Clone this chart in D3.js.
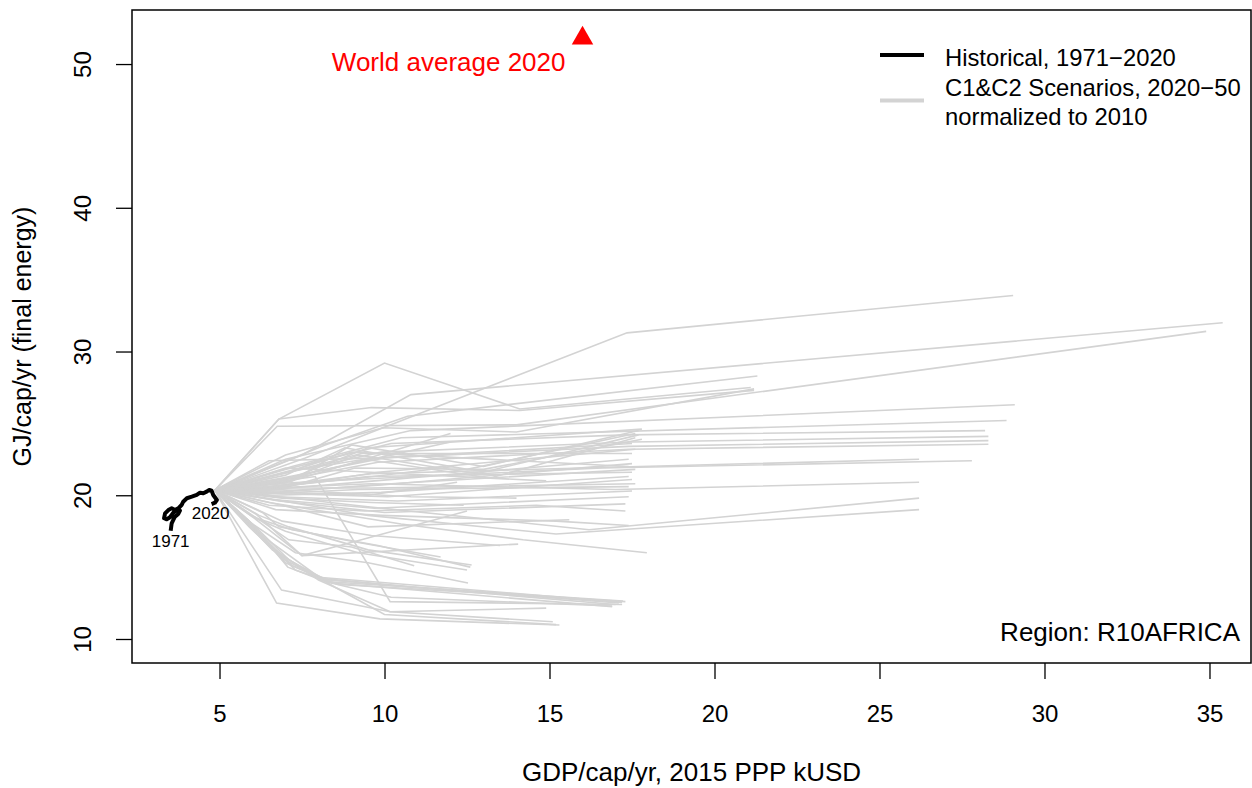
<!DOCTYPE html>
<html>
<head>
<meta charset="utf-8">
<title>R10AFRICA final energy vs GDP</title>
<script type="text/javascript" src="https://d3js.org/d3.v7.min.js"></script>
<style>
  body { margin: 0; background: #fff; }
  text { font-family: "Liberation Sans", Arial, Helvetica, sans-serif; }
</style>
</head>
<body>
<script type="text/javascript">

// historical path, 1971 -> 2020 (GDP kUSD/cap, GJ/cap)
var histGdp = [3.52, 3.55, 3.60, 3.65, 3.75, 3.80, 3.70, 3.60, 3.50, 3.40, 3.32, 3.35, 3.45, 3.55, 3.65,
               3.75, 3.85, 3.90, 4.01, 4.16, 4.31, 4.41, 4.51, 4.61, 4.69, 4.76, 4.81, 4.92, 4.86, 4.76]
var histFe  = [17.53, 18.05, 18.28, 18.51, 18.70, 18.93, 18.97, 18.79, 18.47, 18.33, 18.40, 18.74, 18.97, 19.09, 18.97,
               19.09, 19.32, 19.55, 19.79, 19.90, 20.02, 20.18, 20.14, 20.25, 20.37, 20.32, 20.02, 19.67, 19.48, 19.39]

// all scenarios start from the same normalised point
var scenStart = [4.86, 20.35]

// scenario paths after the start point, [gdp, fe]
var scenarios = [
  [[6.8,25.3],[10.0,29.2],[14.1,26.0],[21.1,27.5]],
  [[6.75,24.8],[14.0,24.9],[34.9,31.4]],
  [[6.8,25.3],[9.6,26.1],[14.1,25.9],[21.2,27.3]],
  [[7.5,22.8],[10.8,27.0],[35.4,32.0]],
  [[7.6,22.6],[17.35,31.3],[29.05,33.9]],
  [[8.2,23.5],[10.7,25.5],[21.3,28.3]],
  [[7.0,22.5],[10.8,24.5],[29.1,26.3]],
  [[7.2,22.0],[10.5,24.0],[28.85,25.2]],
  [[7.0,21.8],[10.2,23.6],[17.3,24.2],[28.2,24.5]],
  [[6.9,21.5],[9.9,23.0],[17.5,23.7],[28.3,24.1]],
  [[6.9,21.2],[10.0,22.6],[17.4,23.4],[28.3,23.8]],
  [[6.8,21.0],[9.8,22.3],[17.4,23.2],[28.3,23.55]],
  [[6.5,20.6],[9.6,21.5],[16.0,21.9],[26.2,22.5]],
  [[6.6,20.8],[10.0,21.2],[16.6,21.9],[27.8,22.4]],
  [[6.5,20.5],[9.6,20.8],[17.0,20.4],[26.2,20.9]],
  [[6.4,20.0],[9.5,19.2],[16.2,17.6],[26.2,19.8]],
  [[6.4,19.8],[9.5,18.6],[15.2,17.3],[26.2,19.0]],
  [[6.5,19.5],[10.5,18.0],[14.2,16.9],[17.95,16.0]],
  [[7.0,22.8],[9.95,24.7],[14.0,24.4],[21.2,27.4]],
  [[7.3,21.3],[9.5,23.3],[17.8,24.6]],
  [[7.2,21.0],[9.0,23.5],[13.0,22.0],[17.7,24.5]],
  [[7.0,21.4],[8.8,23.3],[12.5,21.8],[17.6,24.3]],
  [[7.0,20.9],[9.2,22.8],[12.8,21.5],[17.7,24.2]],
  [[6.9,20.8],[9.4,22.5],[13.2,21.2],[17.6,24.0]],
  [[7.1,20.6],[9.1,21.9],[13.0,21.8],[17.8,23.9]],
  [[6.5,22.4],[9.9,22.6],[17.5,23.6]],
  [[6.7,20.5],[9.8,21.6],[17.6,23.2]],
  [[7.1,21.6],[9.3,22.9],[17.5,22.9]],
  [[6.6,20.4],[9.7,21.0],[17.4,22.5]],
  [[6.9,20.3],[9.8,20.7],[17.5,22.2]],
  [[7.3,21.8],[9.0,23.0],[17.4,22.0]],
  [[6.7,20.2],[10.2,20.8],[17.6,21.8]],
  [[6.8,20.6],[9.5,21.3],[17.5,21.6]],
  [[6.6,20.0],[9.9,20.2],[17.4,21.3]],
  [[7.0,20.1],[10.1,19.9],[17.5,21.1]],
  [[6.9,20.5],[9.6,20.5],[17.6,20.8]],
  [[6.5,20.1],[9.2,20.4],[17.4,20.6]],
  [[6.7,19.9],[10.4,19.6],[17.5,20.3]],
  [[6.6,19.7],[9.7,19.1],[17.4,19.9]],
  [[6.8,19.6],[10.0,18.8],[17.3,19.4]],
  [[6.5,19.3],[9.4,18.9],[14.6,19.3],[17.3,18.9]],
  [[6.7,19.0],[9.9,18.6],[15.2,18.2],[17.4,17.9]],
  [[7.2,21.7],[9.4,22.5],[12.0,24.3]],
  [[7.1,21.2],[9.0,22.2],[12.0,23.7]],
  [[7.0,20.7],[9.3,21.2],[12.1,22.0]],
  [[6.8,20.2],[9.5,20.0],[12.2,20.9]],
  [[6.9,19.8],[9.6,19.5],[12.4,19.3]],
  [[7.0,21.9],[10.5,21.5],[14.9,21.0]],
  [[6.8,20.4],[10.8,19.9],[14.0,19.8]],
  [[6.9,19.3],[9.5,17.8],[15.6,18.3]],
  [[6.2,18.6],[7.1,17.8],[9.5,16.2],[12.64,15.15]],
  [[6.1,18.4],[7.0,17.5],[9.2,16.0],[12.5,14.8]],
  [[6.0,18.0],[7.3,16.0],[9.5,15.3],[12.53,13.9]],
  [[6.3,18.8],[6.8,17.8],[9.0,16.8],[11.7,15.7]],
  [[6.2,18.3],[7.1,16.9],[9.0,16.4],[10.9,15.1]],
  [[6.0,18.5],[7.5,15.8],[9.3,16.9],[12.5,18.9]],
  [[6.1,18.7],[7.5,15.8],[14.05,16.6]],
  [[5.9,18.2],[7.07,15.0],[8.2,14.0],[17.23,12.64]],
  [[6.0,17.9],[7.0,15.3],[8.1,14.2],[11.0,13.6],[17.1,12.5]],
  [[6.1,17.6],[7.2,15.1],[8.3,14.1],[17.0,12.4]],
  [[5.9,17.8],[6.9,15.6],[8.0,14.3],[17.2,12.55]],
  [[6.0,18.0],[7.1,15.5],[8.4,13.9],[16.9,12.25]],
  [[6.2,17.3],[7.3,14.8],[8.6,13.8],[17.3,12.6]],
  [[6.73,12.5],[9.86,11.4],[15.3,10.97]],
  [[6.88,13.4],[10.17,11.9],[15.1,11.2]],
  [[6.5,16.5],[8.0,14.1],[10.17,11.9],[14.9,12.15]],
  [[7.9,21.3],[10.17,12.6],[17.2,12.4]],
  [[6.4,17.0],[8.2,14.0],[10.2,12.9],[16.9,12.3]],
  [[6.6,16.2],[8.5,13.6],[10.0,11.7],[15.2,11.0]],
  [[6.0,18.5],[7.2,17.6],[9.8,16.5],[12.6,15.0]],
  [[6.9,18.2],[9.6,17.2],[13.5,16.5]]
]

var worldGdp = 16.0
var worldFe = 51.8

var xTicks = [5, 10, 15, 20, 25, 30, 35]
var yTicks = [10, 20, 30, 40, 50]

var w = 1252
var h = 788
var svg = d3.select("body").append("svg").attr("width", w).attr("height", h)

var xScale = d3.scaleLinear().domain([2.348, 36.258]).range([132, 1251])
var yScale = d3.scaleLinear().domain([8.33, 53.76]).range([663, 10])

var line = d3.line()
    .x(function(d){ return xScale(d[0]) })
    .y(function(d){ return yScale(d[1]) })

svg.selectAll(".scen")
    .data(scenarios)
    .enter()
    .append("path")
    .attr("class", "scen")
    .attr("d", function(d){ return line([scenStart].concat(d)) })
    .attr("fill", "none")
    .attr("stroke", "#d3d3d3")
    .attr("stroke-width", 1.6)

var hist = histGdp.map(function(g, i){ return [g, histFe[i]] })
svg.append("path")
    .datum(hist)
    .attr("d", line)
    .attr("fill", "none")
    .attr("stroke", "black")
    .attr("stroke-width", 4)
    .attr("stroke-linejoin", "round")

// year labels at both ends of the historical path
svg.append("text")
    .attr("x", xScale(hist[0][0]))
    .attr("y", yScale(hist[0][1]) + 16)
    .attr("text-anchor", "middle")
    .attr("font-size", 17)
    .text("1971")
svg.append("text")
    .attr("x", xScale(hist[hist.length-1][0]) - 1)
    .attr("y", yScale(hist[hist.length-1][1]) + 15)
    .attr("text-anchor", "middle")
    .attr("font-size", 17)
    .text("2020")

// world average marker
svg.append("path")
    .attr("d", d3.symbol().type(d3.symbolTriangle).size(200))
    .attr("transform", "translate(" + xScale(worldGdp) + "," + yScale(worldFe) + ")")
    .attr("fill", "red")
svg.append("text")
    .attr("x", xScale(worldGdp) - 17)
    .attr("y", yScale(worldFe) + 33)
    .attr("text-anchor", "end")
    .attr("font-size", 26)
    .attr("fill", "red")
    .text("World average 2020")

// axes
var xAxis = d3.axisBottom(xScale).tickValues(xTicks).tickSize(16).tickPadding(26).tickFormat(d3.format("d"))
var gx = svg.append("g").attr("transform", "translate(0,663)").call(xAxis)
gx.select(".domain").remove()
gx.selectAll("line").attr("stroke-width", 1.3)
gx.selectAll("text").attr("font-size", 24).attr("fill", "black").attr("font-family", null)

var yAxis = d3.axisLeft(yScale).tickValues(yTicks).tickSize(16).tickFormat(d3.format("d"))
var gy = svg.append("g").attr("transform", "translate(132,0)").call(yAxis)
gy.select(".domain").remove()
gy.selectAll("line").attr("stroke-width", 1.3)
gy.selectAll("text")
    .attr("x", null)
    .attr("dy", null)
    .attr("transform", "translate(-41,0) rotate(-90)")
    .attr("text-anchor", "middle")
    .attr("font-size", 24)
    .attr("fill", "black")
    .attr("font-family", null)

svg.append("rect")
    .attr("x", 132).attr("y", 10)
    .attr("width", 1251 - 132).attr("height", 663 - 10)
    .attr("fill", "none")
    .attr("stroke", "black")
    .attr("stroke-width", 1.5)

svg.append("text")
    .attr("x", 691.5)
    .attr("y", 781)
    .attr("text-anchor", "middle")
    .attr("font-size", 26)
    .text("GDP/cap/yr, 2015 PPP kUSD")

svg.append("text")
    .attr("transform", "translate(31,336.5) rotate(-90)")
    .attr("text-anchor", "middle")
    .attr("font-size", 25)
    .text("GJ/cap/yr (final energy)")

svg.append("text")
    .attr("x", 1240)
    .attr("y", 641)
    .attr("text-anchor", "end")
    .attr("font-size", 26)
    .text("Region: R10AFRICA")

// legend
var legend = svg.append("g")
legend.append("line")
    .attr("x1", 880).attr("x2", 924).attr("y1", 55).attr("y2", 55)
    .attr("stroke", "black").attr("stroke-width", 4)
legend.append("line")
    .attr("x1", 880).attr("x2", 924).attr("y1", 100.5).attr("y2", 100.5)
    .attr("stroke", "#d3d3d3").attr("stroke-width", 4)
var legendText = ["Historical, 1971\u22122020", "C1&C2 Scenarios, 2020\u221250", "normalized to 2010"]
legend.selectAll("text")
    .data(legendText)
    .enter()
    .append("text")
    .attr("x", 945)
    .attr("y", function(d, i){ return 66 + i * 29.7 })
    .attr("font-size", 23.8)
    .text(function(d){ return d })

</script>
</body>
</html>
